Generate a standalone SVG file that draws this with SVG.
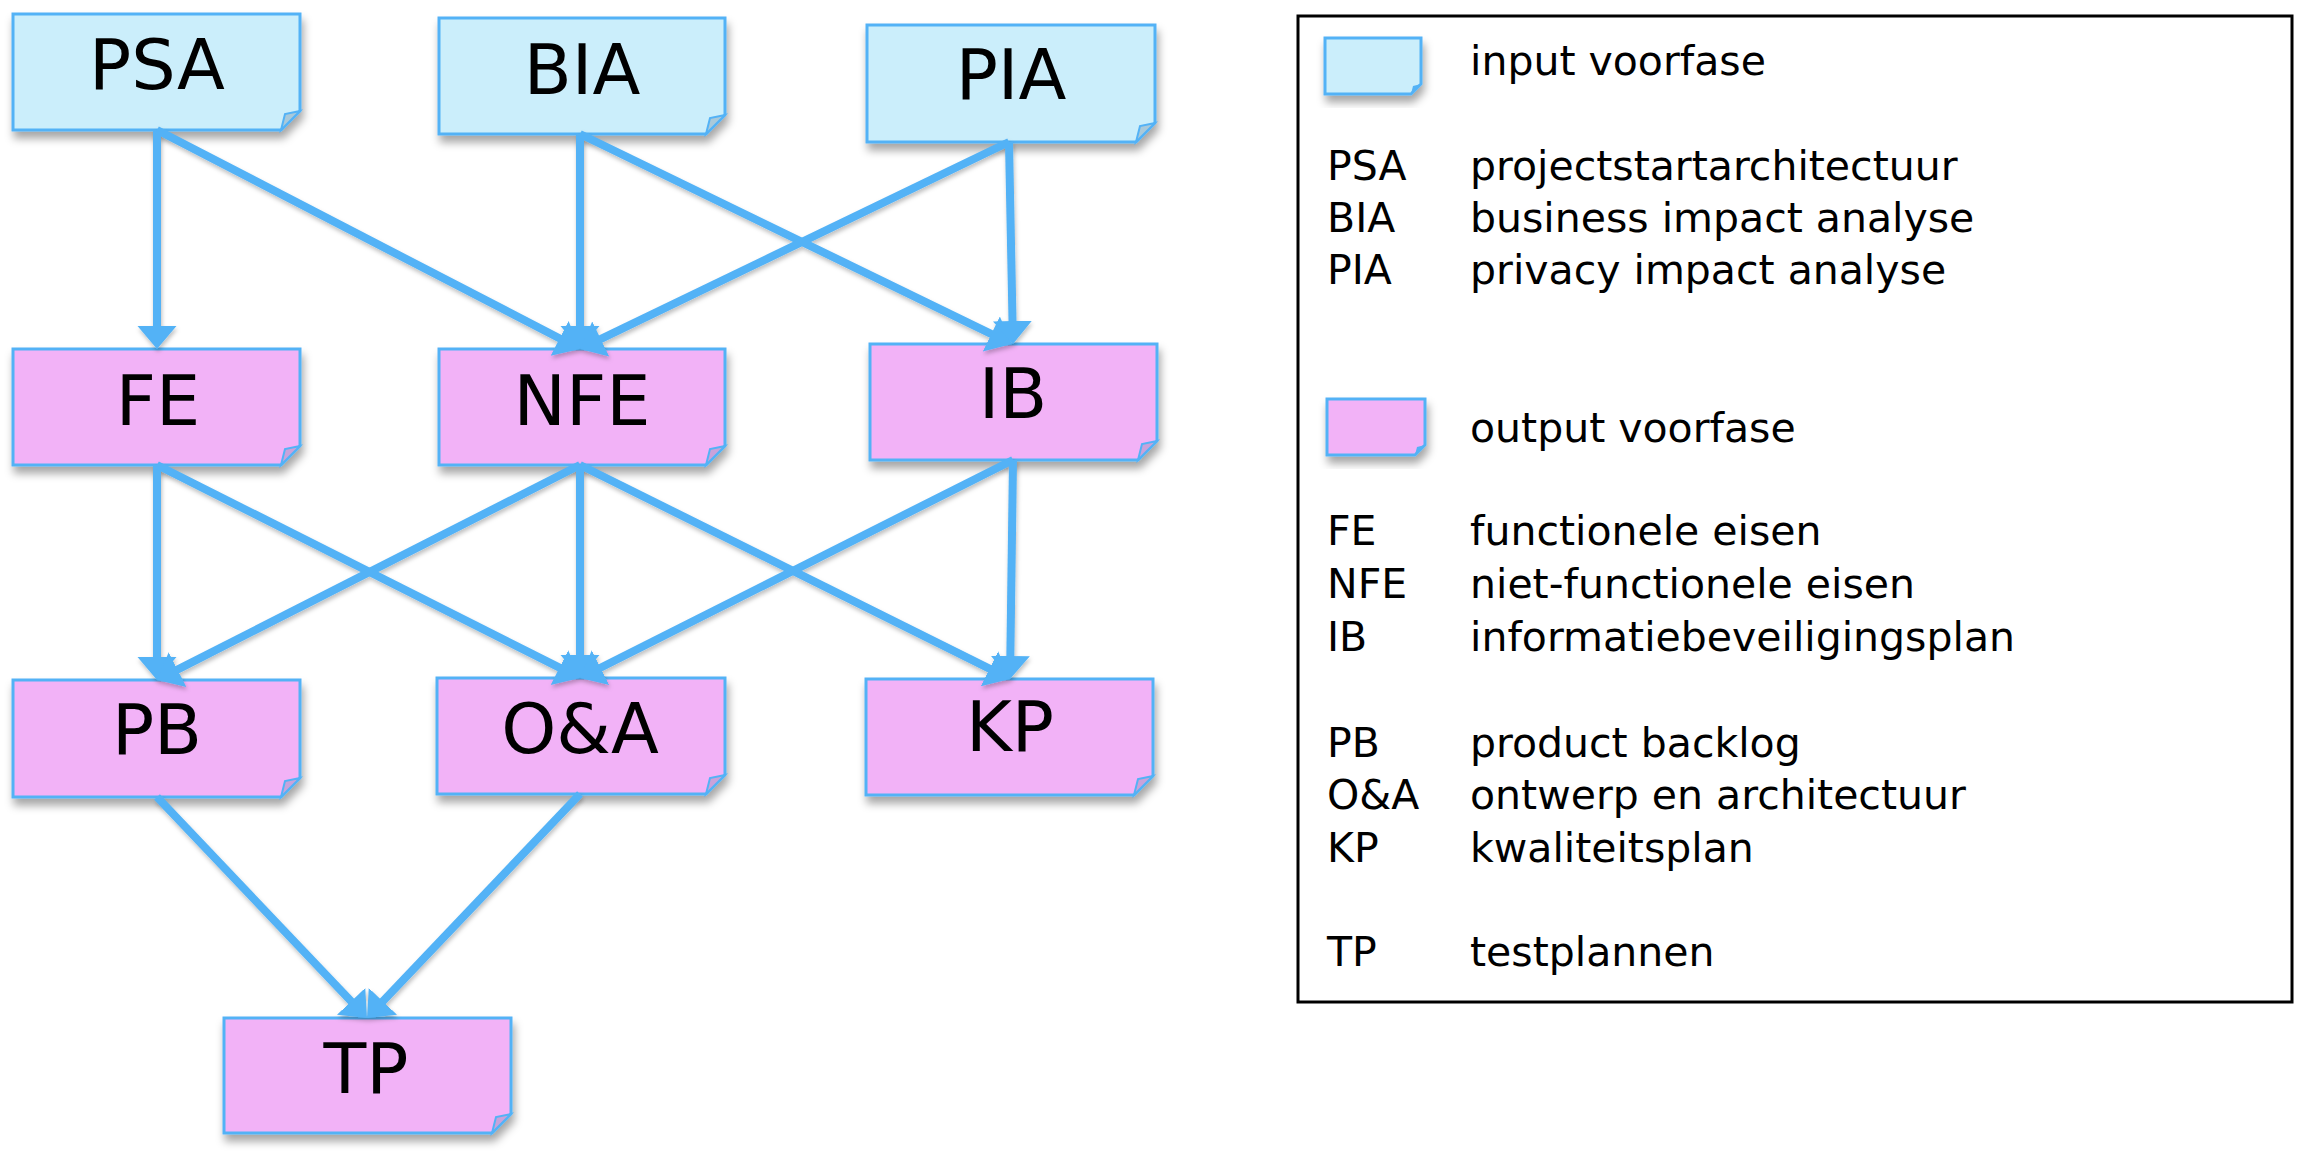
<svg xmlns="http://www.w3.org/2000/svg" width="2310" height="1160" viewBox="0 0 2310 1160">
<style>
text{font-family:"DejaVu Sans","Liberation Sans",sans-serif;fill:#000}
.lbl{font-size:70px;text-anchor:middle}
.leg{font-size:41px}
.box{stroke:#53B2F6;stroke-width:3;filter:url(#sh)}
.in .box{fill:#CBEEFB}
.out .box{fill:#F2B2F7}
.in .flap{fill:#A9C9DA;stroke:#53B2F6;stroke-width:2}
.out .flap{fill:#C9A2DA;stroke:#53B2F6;stroke-width:2}
.curl{fill:#53B2F6}
#connectors{filter:url(#lsh)}
#connectors line{stroke:#53B2F6;stroke-width:8;fill:none;marker-end:url(#arr)}
</style>
<defs>
<filter id="sh" x="-10%" y="-10%" width="125%" height="135%">
<feDropShadow dx="2" dy="7" stdDeviation="4" flood-color="#000" flood-opacity="0.35"/>
</filter>
<filter id="lsh" x="-5%" y="-5%" width="110%" height="110%">
<feDropShadow dx="1" dy="3" stdDeviation="2" flood-color="#000" flood-opacity="0.25"/>
</filter>
<marker id="arr" markerUnits="userSpaceOnUse" markerWidth="24" markerHeight="42" viewBox="0 -21 24 42" refX="10" refY="0" orient="auto">
<path d="M0,-19.5 L23,0 L0,19.5 z" fill="#53B2F6"/>
</marker>
</defs>
<rect width="2310" height="1160" fill="#fff"/>

<g id="node-PSA" class="node in" transform="translate(13,14)">
<path class="box" d="M0,0 H287 V97 L268,116 H0 Z"/>
<path class="flap" d="M287,97 L272,100 L268,116 Z"/>
<text class="lbl" x="144" y="75">PSA</text>
</g>
<g id="node-BIA" class="node in" transform="translate(439,18)">
<path class="box" d="M0,0 H286 V97 L267,116 H0 Z"/>
<path class="flap" d="M286,97 L271,100 L267,116 Z"/>
<text class="lbl" x="143" y="76">BIA</text>
</g>
<g id="node-PIA" class="node in" transform="translate(867,25)">
<path class="box" d="M0,0 H288 V98 L269,117 H0 Z"/>
<path class="flap" d="M288,98 L273,101 L269,117 Z"/>
<text class="lbl" x="144" y="74">PIA</text>
</g>
<g id="node-FE" class="node out" transform="translate(13,349)">
<path class="box" d="M0,0 H287 V97 L268,116 H0 Z"/>
<path class="flap" d="M287,97 L272,100 L268,116 Z"/>
<text class="lbl" x="145" y="76">FE</text>
</g>
<g id="node-NFE" class="node out" transform="translate(439,349)">
<path class="box" d="M0,0 H286 V97 L267,116 H0 Z"/>
<path class="flap" d="M286,97 L271,100 L267,116 Z"/>
<text class="lbl" x="143" y="76">NFE</text>
</g>
<g id="node-IB" class="node out" transform="translate(870,344)">
<path class="box" d="M0,0 H287 V97 L268,116 H0 Z"/>
<path class="flap" d="M287,97 L272,100 L268,116 Z"/>
<text class="lbl" x="143" y="74">IB</text>
</g>
<g id="node-PB" class="node out" transform="translate(13,680)">
<path class="box" d="M0,0 H287 V98 L268,117 H0 Z"/>
<path class="flap" d="M287,98 L272,101 L268,117 Z"/>
<text class="lbl" x="144" y="74">PB</text>
</g>
<g id="node-OA" class="node out" transform="translate(437,678)">
<path class="box" d="M0,0 H288 V97 L269,116 H0 Z"/>
<path class="flap" d="M288,97 L273,100 L269,116 Z"/>
<text class="lbl" x="143" y="75">O&amp;A</text>
</g>
<g id="node-KP" class="node out" transform="translate(866,679)">
<path class="box" d="M0,0 H287 V97 L268,116 H0 Z"/>
<path class="flap" d="M287,97 L272,100 L268,116 Z"/>
<text class="lbl" x="144" y="72">KP</text>
</g>
<g id="node-TP" class="node out" transform="translate(224,1018)">
<path class="box" d="M0,0 H287 V96 L268,115 H0 Z"/>
<path class="flap" d="M287,96 L272,99 L268,115 Z"/>
<text class="lbl" x="142" y="75">TP</text>
</g>

<g id="connectors">
<line x1="157" y1="130" x2="157" y2="336"/>
<line x1="157" y1="130" x2="568.5" y2="343"/>
<line x1="580" y1="134" x2="580" y2="336"/>
<line x1="580" y1="134" x2="1000.3" y2="338.3"/>
<line x1="1009" y1="142" x2="591.7" y2="343.4"/>
<line x1="1009" y1="142" x2="1012.7" y2="331"/>
<line x1="157" y1="465" x2="157" y2="667"/>
<line x1="157" y1="465" x2="568.4" y2="672.1"/>
<line x1="580" y1="465" x2="168.6" y2="674.1"/>
<line x1="580" y1="465" x2="580" y2="665"/>
<line x1="580" y1="465" x2="998.4" y2="673.2"/>
<line x1="1013" y1="460" x2="591.6" y2="672.2"/>
<line x1="1013" y1="460" x2="1010.2" y2="666"/>
<line x1="157" y1="797" x2="358" y2="1008.6"/>
<line x1="580" y1="794" x2="376" y2="1008.6"/>
</g>

<g id="legend">
<rect x="1298" y="16" width="994" height="986" fill="none" stroke="#000" stroke-width="3"/>
<g id="legend-input" class="in">
<path class="box" d="M1325,38 H1421 V84 L1411,94 H1325 Z"/>
<path class="curl" d="M1421,84 L1411,94 L1413,86 Z"/>
</g>
<text class="leg" x="1470" y="75">input voorfase</text>
<text class="leg" x="1327" y="180">PSA</text><text class="leg" x="1470" y="180">projectstartarchitectuur</text>
<text class="leg" x="1327" y="232">BIA</text><text class="leg" x="1470" y="232">business impact analyse</text>
<text class="leg" x="1327" y="284">PIA</text><text class="leg" x="1470" y="284">privacy impact analyse</text>
<g id="legend-output" class="out">
<path class="box" d="M1327,399 H1425 V445 L1415,455 H1327 Z"/>
<path class="curl" d="M1425,445 L1415,455 L1417,447 Z"/>
</g>
<text class="leg" x="1470" y="442">output voorfase</text>
<text class="leg" x="1327" y="545">FE</text><text class="leg" x="1470" y="545">functionele eisen</text>
<text class="leg" x="1327" y="598">NFE</text><text class="leg" x="1470" y="598">niet-functionele eisen</text>
<text class="leg" x="1327" y="651">IB</text><text class="leg" x="1470" y="651">informatiebeveiligingsplan</text>
<text class="leg" x="1327" y="757">PB</text><text class="leg" x="1470" y="757">product backlog</text>
<text class="leg" x="1327" y="809">O&amp;A</text><text class="leg" x="1470" y="809">ontwerp en architectuur</text>
<text class="leg" x="1327" y="862">KP</text><text class="leg" x="1470" y="862">kwaliteitsplan</text>
<text class="leg" x="1327" y="966">TP</text><text class="leg" x="1470" y="966">testplannen</text>
</g>
</svg>
